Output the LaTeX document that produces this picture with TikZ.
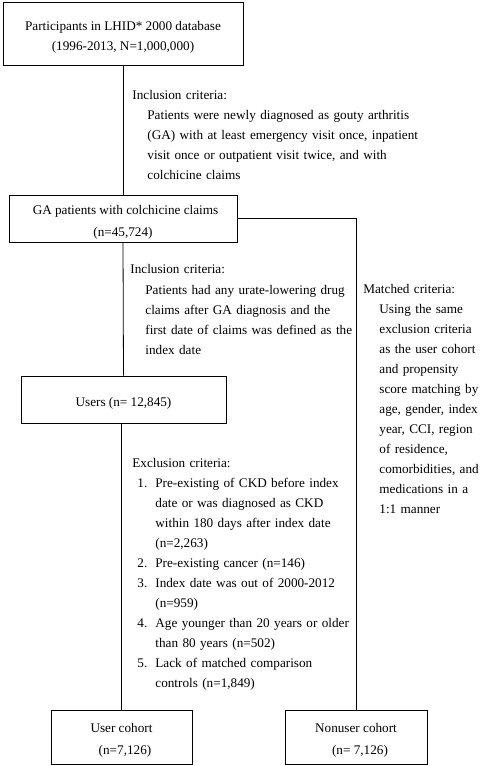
\documentclass[tikz,border=0pt]{standalone}
\usepackage{fontspec}
\setmainfont{Liberation Serif}
\usepackage{tikz}
\newcommand{\itemno}[1]{\makebox[18pt][l]{#1}}
\newcommand{\itemgap}{\hspace*{18pt}}
\newcommand{\boxpad}{\rule{0pt}{16.5pt}}

\begin{document}
\begin{tikzpicture}[x=1pt,y=-1pt,
    box/.style={draw,line width=0.8pt,align=center,inner sep=0pt,
        font=\fontsize{13.2}{22}\selectfont},
    crit/.style={anchor=north west,align=left,inner sep=0pt,text width=330pt,
        font=\fontsize{13.2}{20}\selectfont},
    every path/.style={line width=0.8pt}]
    \useasboundingbox (0,0) rectangle (481,766);

    \node[box,minimum width=240pt,minimum height=63pt,
        font=\fontsize{13.2}{20}\selectfont] (db) at (123,33.5)
        {\boxpad Participants in LHID* 2000 database\\(1996-2013, N=1,000,000)};
    \node[box,minimum width=228pt,minimum height=47pt] (ga) at (123,218.5)
        {\boxpad\hspace*{5pt}GA patients with colchicine claims\\(n=45,724)};
    \node[box,minimum width=205pt,minimum height=47pt] (users) at (123.5,399.5)
        {\boxpad Users (n= 12,845)};
    \node[box,minimum width=141pt,minimum height=54pt] (ucoh) at (121.5,737)
        {\boxpad User cohort\\\hspace*{7pt}(n=7,126)};
    \node[box,minimum width=142pt,minimum height=54pt] (ncoh) at (356,737)
        {\boxpad Nonuser cohort\\\hspace*{8pt}(n= 7,126)};

    % criteria texts
    \node[crit] (inc1h) at (132,89.5) {Inclusion criteria:};
    \node[crit] (inc1) at (147,109.5)
        {Patients were newly diagnosed as gouty arthritis\\
         (GA) with at least emergency visit once, inpatient\\
         visit once or outpatient visit twice, and with\\
         colchicine claims};
    \node[crit] (inc2h) at (130,263.5) {Inclusion criteria:};
    \node[crit] (inc2) at (145,284.5)
        {Patients had any urate-lowering drug\\
         claims after GA diagnosis and the\\
         first date of claims was defined as the\\
         index date};
    \node[crit] (math) at (363,283.5) {Matched criteria:};
    \node[crit] (mat) at (379,303.5)
        {Using the same\\
         exclusion criteria\\
         as the user cohort\\
         and propensity\\
         score matching by\\
         age, gender, index\\
         year, CCI, region\\
         of residence,\\
         comorbidities, and\\
         medications in a\\
         1:1 manner};
    \node[crit] (exch) at (132,457.5) {Exclusion criteria:};
    \node[crit] (exc) at (137,477.5)
        {\itemno{1.}Pre-existing of CKD before index\\
         \itemgap date or was diagnosed as CKD\\
         \itemgap within 180 days after index date\\
         \itemgap (n=2,263)\\
         \itemno{2.}Pre-existing cancer (n=146)\\
         \itemno{3.}Index date was out of 2000-2012\\
         \itemgap (n=959)\\
         \itemno{4.}Age younger than 20 years or older\\
         \itemgap than 80 years (n=502)\\
         \itemno{5.}Lack of matched comparison\\
         \itemgap controls (n=1,849)};

    \draw (db.south) -- (ga.north);
    \draw (ga.south) -- (users.north);
    \draw (users.south -| ucoh.north) -- (ucoh.north);
    \draw (ga.east) -| (ncoh.north);
\end{tikzpicture}
\end{document}
